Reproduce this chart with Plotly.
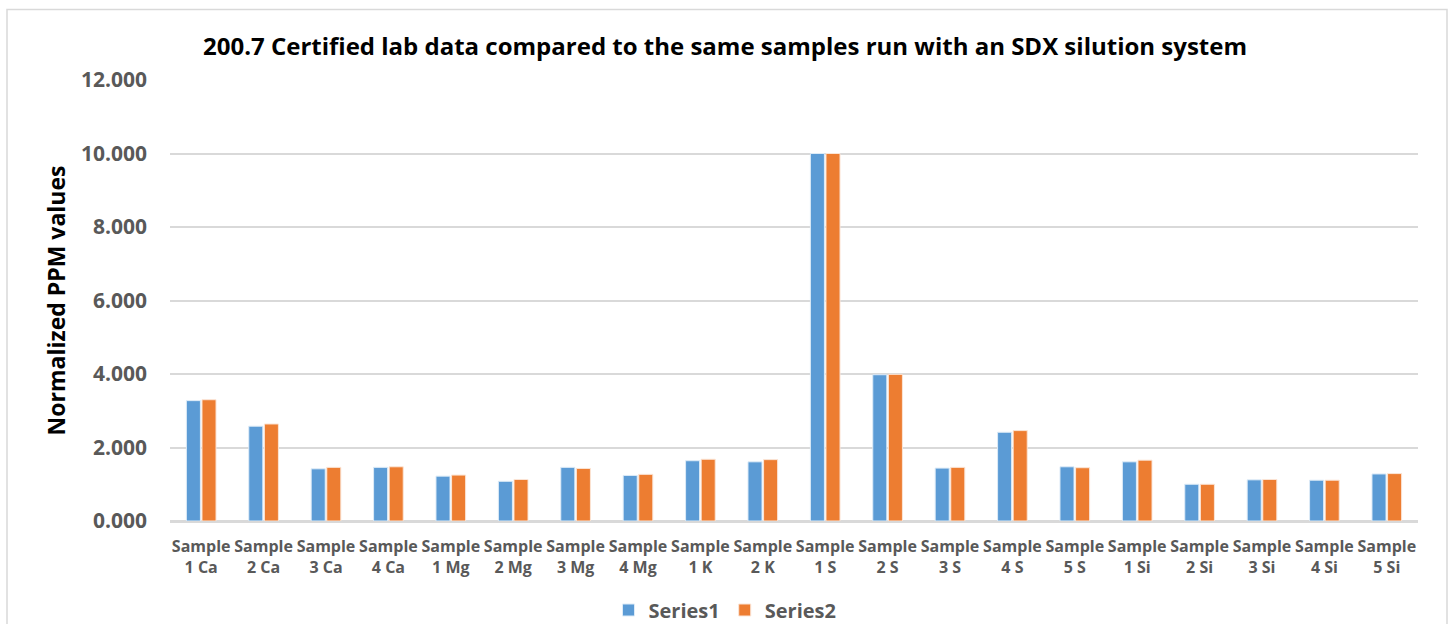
import plotly.graph_objects as go

categories = ["Sample<br>1 Ca", "Sample<br>2 Ca", "Sample<br>3 Ca", "Sample<br>4 Ca",
              "Sample<br>1 Mg", "Sample<br>2 Mg", "Sample<br>3 Mg", "Sample<br>4 Mg",
              "Sample<br>1 K", "Sample<br>2 K",
              "Sample<br>1 S", "Sample<br>2 S", "Sample<br>3 S", "Sample<br>4 S", "Sample<br>5 S",
              "Sample<br>1 Si", "Sample<br>2 Si", "Sample<br>3 Si", "Sample<br>4 Si", "Sample<br>5 Si"]
series1 = [3.275, 2.58, 1.42, 1.46, 1.22, 1.08, 1.46, 1.24, 1.64, 1.61,
           10.0, 3.98, 1.44, 2.415, 1.475, 1.61, 1.00, 1.12, 1.11, 1.28]
series2 = [3.30, 2.64, 1.46, 1.475, 1.25, 1.13, 1.43, 1.27, 1.68, 1.67,
           10.0, 3.99, 1.46, 2.46, 1.45, 1.655, 1.00, 1.13, 1.11, 1.29]
y_ticks = [0, 2, 4, 6, 8, 10, 12]

FONT = "Open Sans"
GRAY = "#595959"

fig = go.Figure()
fig.add_trace(go.Bar(x=categories, y=series1, name="Series1",
                     marker=dict(color="#5B9BD5", line=dict(color="#DDEBF7", width=1))))
fig.add_trace(go.Bar(x=categories, y=series2, name="Series2",
                     marker=dict(color="#ED7D31", line=dict(color="#FBE5D6", width=1))))

L, R, T, B = 170, 32, 80, 103
W, H = 1450, 624
pw, ph = W - L - R, H - T - B
base = T + ph  # pixel row of paper y=0

fig.update_layout(
    width=W, height=H,
    margin=dict(l=L, r=R, t=T, b=B),
    paper_bgcolor="white", plot_bgcolor="white",
    barmode="group", bargap=0.5, bargroupgap=0.1,
    font=dict(family=FONT, color=GRAY),
    title=dict(text="<b>200.7 Certified lab data compared to the same samples run with an SDX silution system</b>",
               x=0.5, xref="container", xanchor="center", y=1 - 47 / H, yanchor="middle",
               font=dict(family=FONT, size=24, color="black")),
    showlegend=True,
    legend=dict(orientation="h", x=0.5, xref="container", xanchor="center",
                y=(H - 610) / H, yref="container", yanchor="middle",
                bgcolor="rgba(0,0,0,0)",
                font=dict(family=FONT, size=20, color=GRAY, weight="bold"),
                itemwidth=30, traceorder="normal"),
    xaxis=dict(type="category", showgrid=False, showline=True, linecolor="#D9D9D9", linewidth=2,
               ticks="", tickfont=dict(family=FONT, size=16, color=GRAY, weight="bold"),
               ticklabelstandoff=10),
    yaxis=dict(range=[0, 12], tickvals=y_ticks, tickformat=".3f",
               showgrid=True, gridcolor="#D9D9D9", gridwidth=1.5,
               zeroline=True, zerolinecolor="#D9D9D9", zerolinewidth=2,
               showline=False, ticks="", ticklabelstandoff=22,
               tickfont=dict(family=FONT, size=21, color=GRAY, weight="bold"),
               title=dict(text="<b>Normalized PPM values</b>", standoff=8,
                          font=dict(family=FONT, size=23, color="black"))),
)

fig.add_shape(type="rect", xref="paper", yref="paper",
              x0=(7 - L) / pw, x1=(1447 - L) / pw,
              y0=(base - 640) / ph, y1=(base - 9.5) / ph,
              line=dict(color="#D9D9D9", width=1.5), fillcolor="rgba(0,0,0,0)", layer="below")

fig.write_html("out.html")
